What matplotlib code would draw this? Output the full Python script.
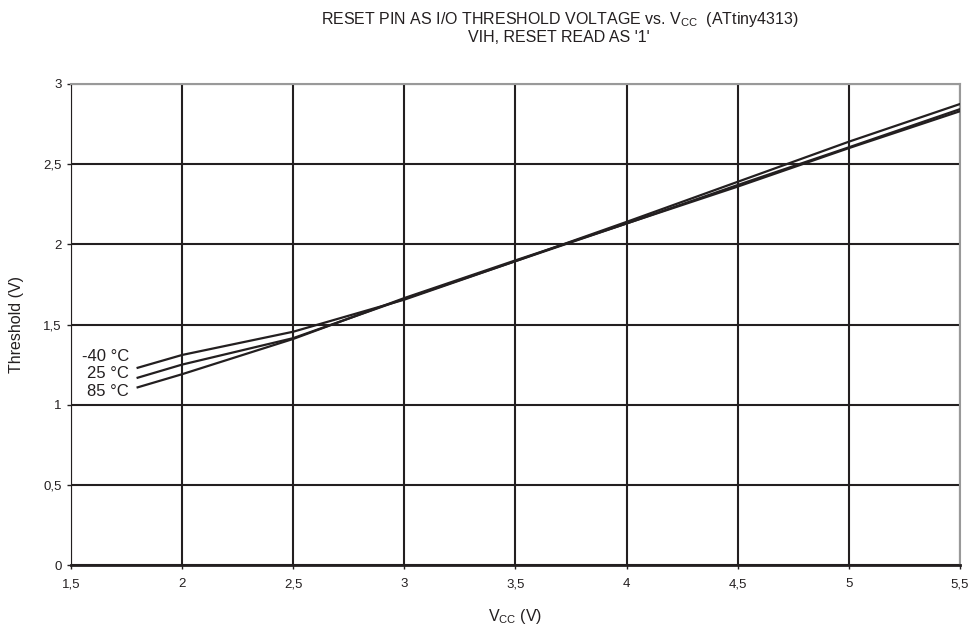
import matplotlib.pyplot as plt
from matplotlib.ticker import FuncFormatter

plt.rcParams['font.family'] = ['Liberation Sans', 'DejaVu Sans']

vcc = [1.8, 2.0, 2.5, 3.0, 3.5, 4.0, 4.5, 5.0, 5.5]
th_m40 = [1.23, 1.31, 1.455, 1.655, 1.895, 2.14, 2.39, 2.64, 2.875]
th_25 = [1.168, 1.25, 1.415, 1.66, 1.895, 2.13, 2.37, 2.605, 2.843]
th_85 = [1.108, 1.19, 1.41, 1.665, 1.9, 2.13, 2.36, 2.60, 2.83]
labels = ['-40 °C', '25 °C', '85 °C']

ink = '#231f20'

fig = plt.figure(figsize=(9.76, 6.29), dpi=100)
ax = fig.add_axes([0.0727, 0.1017, 0.9109, 0.7648])

for ys in (th_m40, th_25, th_85):
    ax.plot(vcc, ys, color=ink, lw=1.6, zorder=3)

ax.set_xlim(1.5, 5.5)
ax.set_ylim(0, 3)
ax.set_xticks([1.5, 2, 2.5, 3, 3.5, 4, 4.5, 5, 5.5])
ax.set_yticks([0, 0.5, 1, 1.5, 2, 2.5, 3])
fmt = FuncFormatter(lambda v, p: ('%g' % v).replace('.', ','))
ax.xaxis.set_major_formatter(fmt)
ax.yaxis.set_major_formatter(fmt)
ax.grid(True, color=ink, lw=1.5)
ax.tick_params(labelsize=9.5, colors=ink, length=3, width=1, pad=3.5)
ax.tick_params(axis='x', pad=6.5)

for s in ('top', 'right'):
    ax.spines[s].set_color('#999999')
    ax.spines[s].set_linewidth(1.5)
ax.spines['left'].set_color(ink)
ax.spines['bottom'].set_color(ink)
ax.spines['bottom'].set_linewidth(2)

# curve labels at the start of each line
ax.text(1.762, 1.30, labels[0], ha='right', va='center', fontsize=12, color=ink)
ax.text(1.762, 1.195, labels[1], ha='right', va='center', fontsize=12, color=ink)
ax.text(1.762, 1.085, labels[2], ha='right', va='center', fontsize=12, color=ink)

ax.set_xlabel('V$_\\mathregular{CC}$ (V)', fontsize=11.5, color=ink, labelpad=12)
ax.set_ylabel('Threshold (V)', fontsize=11.5, color=ink)
ax.yaxis.set_label_coords(-0.053, 0.5)

fig.text(0.573, 0.969, "RESET PIN AS I/O THRESHOLD VOLTAGE vs. V$_\\mathregular{CC}$  (ATtiny4313)",
         ha='center', va='center', fontsize=11.5, color=ink)
fig.text(0.573, 0.94, "VIH, RESET READ AS '1'", ha='center', va='center', fontsize=11.5, color=ink)

fig.savefig('out.png', dpi=100)
